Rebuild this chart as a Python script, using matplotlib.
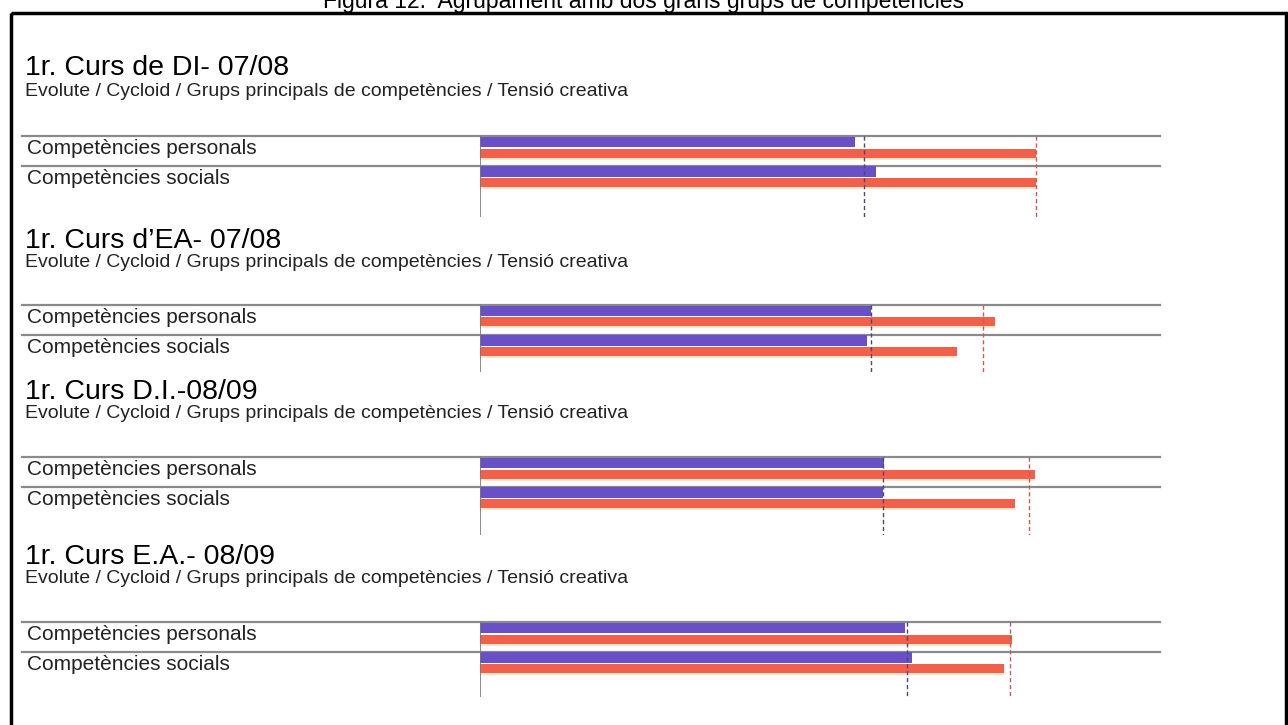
import matplotlib.pyplot as plt
from matplotlib.patches import Rectangle

# data
panel_titles = ["1r. Curs de DI- 07/08", "1r. Curs d\u2019EA- 07/08",
                "1r. Curs D.I.-08/09", "1r. Curs E.A.- 08/09"]
subtitle = "Evolute / Cycloid / Grups principals de competències / Tensió creativa"
categories = ["Competències personals", "Competències socials"]
blue_vals = [[5.51, 5.82], [5.75, 5.69], [5.94, 5.93], [6.25, 6.35]]
red_vals = [[8.18, 8.18], [7.58, 7.02], [8.16, 7.87], [7.83, 7.71]]
blue_ref = [5.65, 5.75, 5.93, 6.28]
red_ref = [8.18, 7.39, 8.07, 7.80]

W, H = 1288, 725
BLUE = "#6950c6"
RED = "#f0604a"
LINE = "#8a8a8a"

# layout (pixels, baselines)
title_y = [75, 248, 399, 564]
sub_y = [96, 267, 418, 583]
top_y = [136, 305, 457, 622]
bottom_y = [217, 372, 535, 697]
row_gap = 29.5
x0, x1 = 480, 1160


def main():
    plt.rcParams["font.family"] = ["Liberation Sans", "DejaVu Sans"]
    fig = plt.figure(figsize=(W / 100, H / 100), dpi=100)
    bg = fig.add_axes([0, 0, 1, 1])
    bg.set_xlim(0, W)
    bg.set_ylim(H, 0)
    bg.axis("off")

    bg.text(W / 2, 8, "Figura 12.  Agrupament amb dos grans grups de competències",
            ha="center", va="baseline", fontsize=16.5, color="black")
    bg.add_patch(Rectangle((11, 12.5), 1275, 730, fill=False,
                           edgecolor="black", linewidth=2.5, clip_on=False))

    for i in range(4):
        bg.text(25, title_y[i], panel_titles[i], ha="left", va="baseline",
                fontsize=20.5, color="black")
        bg.text(25, sub_y[i], subtitle, ha="left", va="baseline",
                fontsize=14, color="#222222")
        for r, cat in enumerate(categories):
            ly = top_y[i] + r * row_gap
            bg.plot([22, x1], [ly, ly], color=LINE, linewidth=1.6)
            bg.text(27, ly + 12.5, cat, ha="left", va="center",
                    fontsize=15, color="#222222")

        h = bottom_y[i] - top_y[i]
        ax = fig.add_axes([x0 / W, 1 - bottom_y[i] / H, (x1 - x0) / W, h / H])
        ax.set_xlim(0, 10)
        ax.set_ylim(h, 0)
        ax.axis("off")
        for r in range(len(categories)):
            off = r * row_gap
            ax.barh(off + 6.0, blue_vals[i][r], height=10.5, left=0,
                    color=BLUE, linewidth=0)
            ax.barh(off + 17.0, red_vals[i][r], height=9, left=0,
                    color=RED, linewidth=0)
            ax.barh(off + 22.5, red_vals[i][r], height=2, left=0,
                    color="#fbe6c8", linewidth=0)
        ax.plot([0, 0], [0, h], color="#777777", linewidth=1.2)
        ax.plot([blue_ref[i]] * 2, [0, h], color="#4a4a70", linewidth=1,
                linestyle=(0, (3, 2)))
        ax.plot([red_ref[i]] * 2, [0, h], color="#c85a5a", linewidth=1,
                linestyle=(0, (3, 2)))

    fig.savefig("out.png", dpi=100)


if __name__ == "__main__":
    main()
